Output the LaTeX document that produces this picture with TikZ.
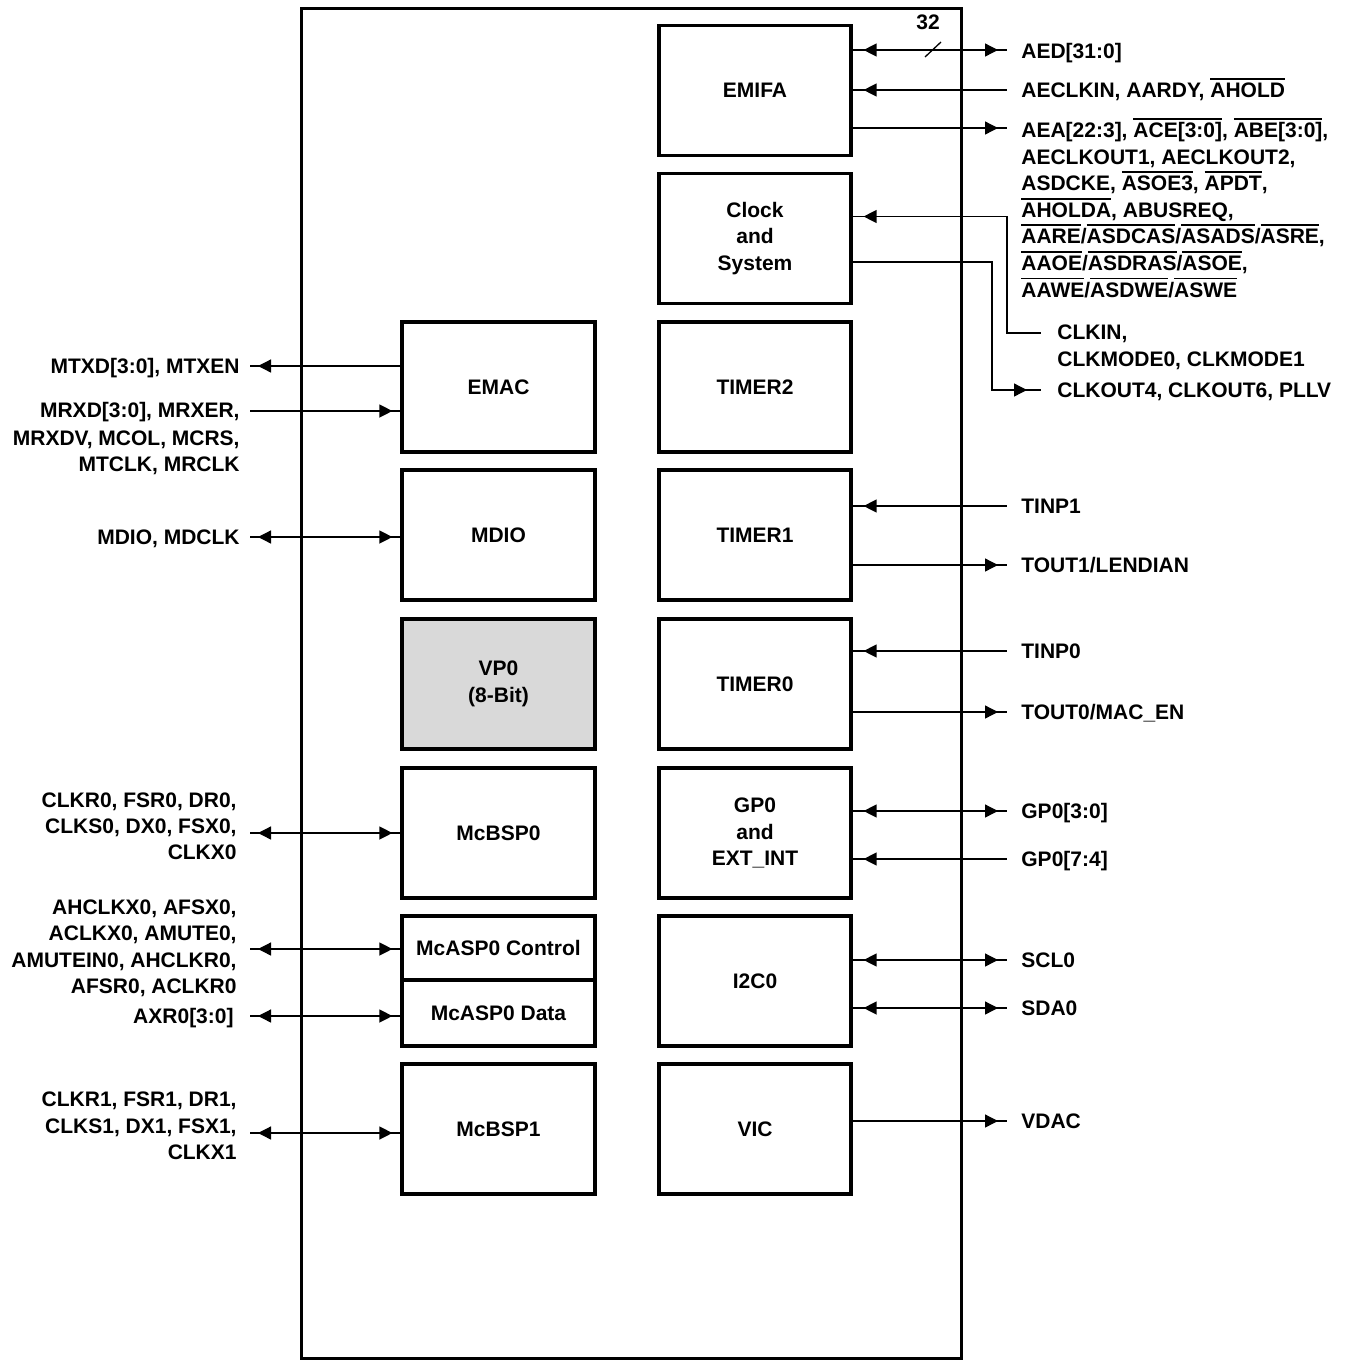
\documentclass[tikz,border=0pt]{standalone}
\usepackage{fontspec}
\setmainfont{Liberation Sans}
\usetikzlibrary{arrows.meta,decorations.markings}
\newcommand{\ovl}[1]{\setbox0=\hbox{#1}\makebox[0pt][l]{\rule[8.9pt]{\wd0}{0.85pt}}\box0}
\definecolor{vpgray}{RGB}{217,217,217}
\tikzset{
  every node/.style={font=\fontsize{10.5}{13.3}\selectfont\bfseries, inner sep=0pt},
  blk/.style={draw, line width=1.6pt, minimum width=96pt, minimum height=65pt, align=center},
  conn/.style={line width=0.65pt},
  tipS/.style={postaction={decorate,decoration={markings,mark=at position #1 with {\arrowreversed{Triangle[length=6.5pt,width=6.5pt]}}}}},
  tipE/.style={postaction={decorate,decoration={markings,mark=at position #1 with {\arrow{Triangle[length=6.5pt,width=6.5pt]}}}}},
  lblL/.style={anchor=base east},
  lblR/.style={anchor=base west},
}
\begin{document}
\begin{tikzpicture}[x=0.5pt,y=-0.5pt]
\useasboundingbox (0,0) rectangle (1347,1361);
% chip outline
\node[draw, line width=1.5pt, minimum width=330pt, minimum height=675pt] (chip) at (631,683) {};
% right column
\node[blk] (emifa) at (755,90.5) {EMIFA};
\node[blk] (clock) at (755,238.5) {Clock\\and\\System};
\node[blk] (timer2) at (755,387) {TIMER2};
\node[blk] (timer1) at (755,535) {TIMER1};
\node[blk] (timer0) at (755,684) {TIMER0};
\node[blk] (gp0) at (755,833) {GP0\\and\\EXT\_INT};
\node[blk] (i2c) at (755,981) {I2C0};
\node[blk] (vic) at (755,1129) {VIC};
% left column
\node[blk, minimum width=96.5pt] (emac) at (498.5,387) {EMAC};
\node[blk, minimum width=96.5pt] (mdio) at (498.5,535) {MDIO};
\node[blk, minimum width=96.5pt, fill=vpgray] (vp0) at (498.5,684) {VP0\\(8-Bit)};
\node[blk, minimum width=96.5pt] (mcbsp0) at (498.5,833) {McBSP0};
\node[blk, minimum width=96.5pt, minimum height=32pt] (mcaspc) at (498.5,948) {McASP0 Control};
\node[blk, minimum width=96.5pt, minimum height=33pt] (mcaspd) at (498.5,1013) {McASP0 Data};
\node[blk, minimum width=96.5pt] (mcbsp1) at (498.5,1129) {McBSP1};

% ---------- right side connectors ----------
\coordinate (aedE) at (1007,50);
\draw[conn,tipS=5.5pt,tipE=-4.5pt] (emifa.east |- aedE) -- (aedE);
\draw[conn] (925,57) -- (941,42);
\node (w32) at (928,22) {32};
\node[lblR] (t1) at (1021,58) {AED[31:0]};

\coordinate (aeclkE) at (1007,90);
\draw[conn,tipS=5.5pt] (emifa.east |- aeclkE) -- (aeclkE);
\node[lblR] (t2) at (1021,97.5) {AECLKIN, AARDY, \ovl{AHOLD}};

\coordinate (aeaE) at (1007,128);
\draw[conn,tipE=-4.5pt] (emifa.east |- aeaE) -- (aeaE);
\node[lblR] (t3) at (1021,137.5) {AEA[22:3], \ovl{ACE[3:0]}, \ovl{ABE[3:0]},};
\node[lblR] (t4) at (1021,164.1) {AECLKOUT1, AECLKOUT2,};
\node[lblR] (t5) at (1021,190.7) {ASDCKE, \ovl{ASOE3}, \ovl{APDT},};
\node[lblR] (t6) at (1021,217.3) {\ovl{AHOLDA}, ABUSREQ,};
\node[lblR] (t7) at (1021,243.9) {\ovl{AARE}/\ovl{ASDCAS}/\ovl{ASADS}/\ovl{ASRE},};
\node[lblR] (t8) at (1021,270.5) {\ovl{AAOE}/\ovl{ASDRAS}/\ovl{ASOE},};
\node[lblR] (t9) at (1021,297.1) {\ovl{AAWE}/\ovl{ASDWE}/\ovl{ASWE}};

% clock
\coordinate (clkA) at (1007,216.5);
\coordinate (clkinE) at (1041,333);
\draw[conn,tipS=5.5pt] (clock.east |- clkA) -- (clkA) |- (clkinE);
\coordinate (clkB) at (992,262);
\coordinate (clkoutE) at (1041,390);
\draw[conn,tipE=-7pt] (clock.east |- clkB) -- (clkB) |- (clkoutE);
\node[lblR] (t10) at (1057,339.5) {CLKIN,};
\node[lblR] (t11) at (1057,366.5) {CLKMODE0, CLKMODE1};
\node[lblR] (t12) at (1057,397.5) {CLKOUT4, CLKOUT6, PLLV};

% timer1
\coordinate (tinp1E) at (1007,506);
\draw[conn,tipS=5.5pt] (timer1.east |- tinp1E) -- (tinp1E);
\node[lblR] (t13) at (1021,513.5) {TINP1};
\coordinate (tout1E) at (1007,565);
\draw[conn,tipE=-4.5pt] (timer1.east |- tout1E) -- (tout1E);
\node[lblR] (t14) at (1021,572.5) {TOUT1/LENDIAN};

% timer0
\coordinate (tinp0E) at (1007,651);
\draw[conn,tipS=5.5pt] (timer0.east |- tinp0E) -- (tinp0E);
\node[lblR] (t15) at (1021,658.5) {TINP0};
\coordinate (tout0E) at (1007,712);
\draw[conn,tipE=-4.5pt] (timer0.east |- tout0E) -- (tout0E);
\node[lblR] (t16) at (1021,719.5) {TOUT0/MAC\_EN};

% gp0
\coordinate (gpaE) at (1007,811);
\draw[conn,tipS=5.5pt,tipE=-4.5pt] (gp0.east |- gpaE) -- (gpaE);
\node[lblR] (t17) at (1021,818.5) {GP0[3:0]};
\coordinate (gpbE) at (1007,859);
\draw[conn,tipS=5.5pt] (gp0.east |- gpbE) -- (gpbE);
\node[lblR] (t18) at (1021,866.5) {GP0[7:4]};

% i2c
\coordinate (sclE) at (1007,960);
\draw[conn,tipS=5.5pt,tipE=-4.5pt] (i2c.east |- sclE) -- (sclE);
\node[lblR] (t19) at (1021,967.5) {SCL0};
\coordinate (sdaE) at (1007,1008);
\draw[conn,tipS=5.5pt,tipE=-4.5pt] (i2c.east |- sdaE) -- (sdaE);
\node[lblR] (t20) at (1021,1015.5) {SDA0};

% vic
\coordinate (vdacE) at (1007,1121);
\draw[conn,tipE=-4.5pt] (vic.east |- vdacE) -- (vdacE);
\node[lblR] (t21) at (1021,1128.5) {VDAC};

% ---------- left side connectors ----------
\coordinate (mtxdW) at (250,366);
\draw[conn,tipS=4pt] (mtxdW) -- (emac.west |- mtxdW);
\node[lblL] (l1) at (240,373.5) {MTXD[3:0], MTXEN};

\coordinate (mrxdW) at (250,411);
\draw[conn,tipE=-4pt] (mrxdW) -- (emac.west |- mrxdW);
\node[lblL] (l2) at (240,417.5) {MRXD[3:0], MRXER,};
\node[lblL] (l3) at (240,445.5) {MRXDV, MCOL, MCRS,};
\node[lblL] (l4) at (240,471.5) {MTCLK, MRCLK};

\coordinate (mdioW) at (250,537);
\draw[conn,tipS=4pt,tipE=-4pt] (mdioW) -- (mdio.west |- mdioW);
\node[lblL] (l5) at (240,544.5) {MDIO, MDCLK};

\coordinate (bsp0W) at (250,833);
\draw[conn,tipS=4pt,tipE=-4pt] (bsp0W) -- (mcbsp0.west |- bsp0W);
\node[lblL] (l6) at (237,807.5) {CLKR0, FSR0, DR0,};
\node[lblL] (l7) at (237,833.5) {CLKS0, DX0, FSX0,};
\node[lblL] (l8) at (237,859.5) {CLKX0};

\coordinate (aspcW) at (250,949);
\draw[conn,tipS=4pt,tipE=-4pt] (aspcW) -- (mcaspc.west |- aspcW);
\node[lblL] (l9) at (237,914.5) {AHCLKX0, AFSX0,};
\node[lblL] (l10) at (237,940.5) {ACLKX0, AMUTE0,};
\node[lblL] (l11) at (237,967.5) {AMUTEIN0, AHCLKR0,};
\node[lblL] (l12) at (237,993.5) {AFSR0, ACLKR0};

\coordinate (aspdW) at (250,1016);
\draw[conn,tipS=4pt,tipE=-4pt] (aspdW) -- (mcaspd.west |- aspdW);
\node[lblL] (l13) at (234,1023.5) {AXR0[3:0]};

\coordinate (bsp1W) at (250,1133);
\draw[conn,tipS=4pt,tipE=-4pt] (bsp1W) -- (mcbsp1.west |- bsp1W);
\node[lblL] (l14) at (237,1106.5) {CLKR1, FSR1, DR1,};
\node[lblL] (l15) at (237,1133.5) {CLKS1, DX1, FSX1,};
\node[lblL] (l16) at (237,1159.5) {CLKX1};
\end{tikzpicture}
\end{document}
